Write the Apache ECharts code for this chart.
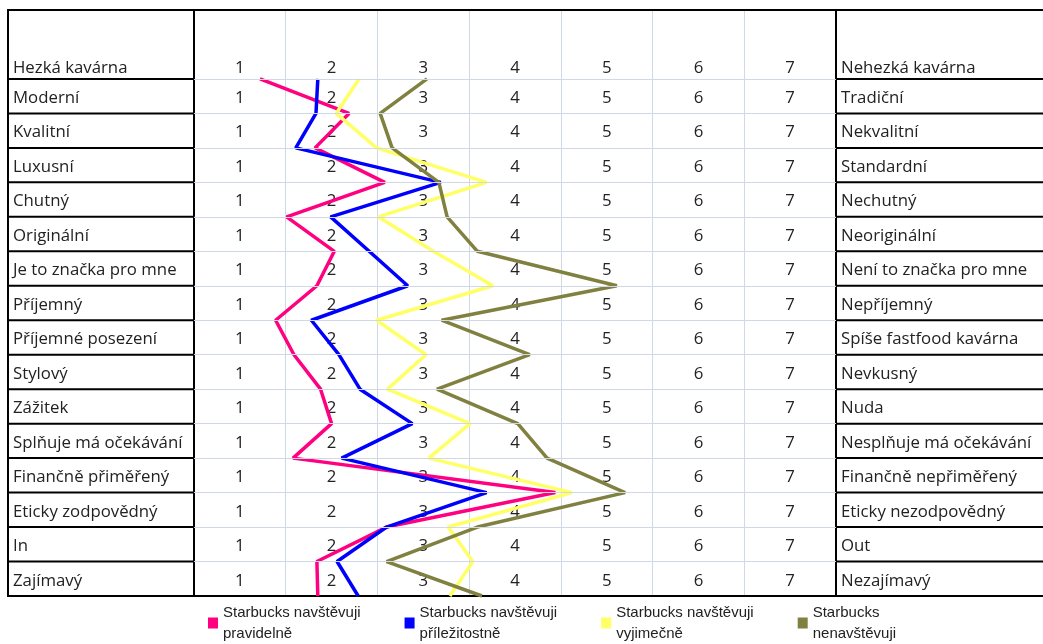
<!DOCTYPE html>
<html>
<head>
<meta charset="utf-8">
<script src="https://cdn.jsdelivr.net/npm/echarts@6/dist/echarts.min.js"></script>
<style>
html,body{margin:0;padding:0;background:#fff;}
#chart{width:1043px;height:644px;}
</style>
</head>
<body>
<div id="chart"></div>
<script>
// ---- data ----
const leftLabels = ['Hezká kavárna','Moderní','Kvalitní','Luxusní','Chutný','Originální','Je to značka pro mne','Příjemný','Příjemné posezení','Stylový','Zážitek','Splňuje má očekávání','Finančně přiměřený','Eticky zodpovědný','In','Zajímavý'];
const rightLabels = ['Nehezká kavárna','Tradiční','Nekvalitní','Standardní','Nechutný','Neoriginální','Není to značka pro mne','Nepříjemný','Spíše fastfood kavárna','Nevkusný','Nuda','Nesplňuje má očekávání','Finančně nepřiměřený','Eticky nezodpovědný','Out','Nezajímavý'];
const scaleLabels = ['1','2','3','4','5','6','7'];
const seriesNames = ['Starbucks navštěvuji\npravidelně','Starbucks navštěvuji\npříležitostně','Starbucks navštěvuji\nvyjimečně','Starbucks\nnenavštěvuji'];
const pravidelne   = [1.22,2.19,1.82,2.58,1.51,2.03,1.84,1.39,1.59,1.88,2.00,1.58,4.44,2.60,1.84,1.85];
const prilezitostne = [1.85,1.83,1.61,3.19,1.99,2.41,2.83,1.78,2.08,2.31,2.88,2.11,3.69,2.60,2.06,2.29];
const vyjimecne    = [2.30,2.05,2.49,3.69,2.51,3.11,3.76,2.49,3.03,2.61,3.51,3.06,4.62,3.27,3.54,3.29];
const nenavstevuji = [3.04,2.53,2.66,3.17,3.26,3.59,5.11,3.20,4.16,3.15,4.03,4.35,5.20,3.59,2.60,3.64];
const colors = ['#ff0080','#0000ff','#ffff66','#808040'];

const FONT = '16.8px "Open Sans"';
const TXT = '#222';

function renderTable(params, api) {
  const i = api.value(0);
  const last = leftLabels.length - 1;
  const top = i === 0 ? -2 : i - 1;
  const pTL = api.coord([0.5, top]);
  const pBR = api.coord([7.5, i]);
  const xL = pTL[0], xR = pBR[0], yT = pTL[1], yB = pBR[1];
  const oL = xL - 186, oR = xR + 220;
  const st = {stroke: '#000', lineWidth: 2};
  const ch = [];
  const ln = (x1, y1, x2, y2) => ch.push({type: 'line', shape: {x1, y1, x2, y2}, style: st});
  if (i === 0) ln(oL - 1, yT, oR, yT);
  if (i === last) ln(oL - 1, yB, oR, yB);
  else { ln(oL - 1, yB, xL, yB); ln(xR, yB, oR, yB); }
  ln(oL, yT, oL, yB); ln(xL, yT, xL, yB); ln(xR, yT, xR, yB);
  const ty = api.coord([1, i === 0 ? i - 0.32 : i - 0.44])[1];
  ch.push({type: 'text', style: {x: oL + 5, y: ty, text: leftLabels[i], font: FONT, fill: TXT, align: 'left', verticalAlign: 'middle'}});
  ch.push({type: 'text', style: {x: xR + 5, y: ty, text: rightLabels[i], font: FONT, fill: TXT, align: 'left', verticalAlign: 'middle'}});
  scaleLabels.forEach((s, k) => {
    const px = api.coord([k + 1, 0])[0];
    ch.push({type: 'text', style: {x: px, y: ty, text: s, font: FONT, fill: TXT, align: 'center', verticalAlign: 'middle'}});
  });
  return {type: 'group', children: ch};
}

const lineData = [pravidelne, prilezitostne, vyjimecne, nenavstevuji];
const chart = echarts.init(document.getElementById('chart'), null, {renderer: 'canvas'});
const series = [{
  type: 'custom',
  renderItem: renderTable,
  data: leftLabels.map((_, i) => [i]),
  z: 1,
  silent: true,
  markLine: {
    silent: true, symbol: 'none', label: {show: false},
    lineStyle: {color: '#d0d7e5', width: 1, type: 'solid'},
    data: leftLabels.slice(0, -1).map((_, i) => ({yAxis: i}))
  }
}];
lineData.forEach((arr, k) => {
  series.push({
    name: seriesNames[k], type: 'line', z: 3,
    data: arr.map((v, i) => [v, i]),
    symbol: 'none', silent: true,
    lineStyle: {color: colors[k], width: 3.5},
    itemStyle: {color: colors[k]}
  });
});

chart.setOption({
  animation: false,
  color: colors,
  grid: {left: 194, top: 10, width: 642, height: 586},
  xAxis: {type: 'value', min: 0.5, max: 7.5, interval: 1,
    axisLine: {show: false}, axisTick: {show: false}, axisLabel: {show: false},
    splitLine: {show: true, lineStyle: {color: '#d0d7e5', width: 1}}},
  yAxis: {type: 'value', min: -2, max: 15, inverse: true,
    axisLine: {show: false}, axisTick: {show: false}, axisLabel: {show: false}, splitLine: {show: false}},
  legend: {
    left: 208, top: 602, padding: 0, itemGap: 44, itemWidth: 10, itemHeight: 11, icon: 'rect',
    data: seriesNames,
    textStyle: {fontFamily: '"Liberation Sans", Arial', fontSize: 15, color: '#222', lineHeight: 21}
  },
  series: series
});
</script>
</body>
</html>
